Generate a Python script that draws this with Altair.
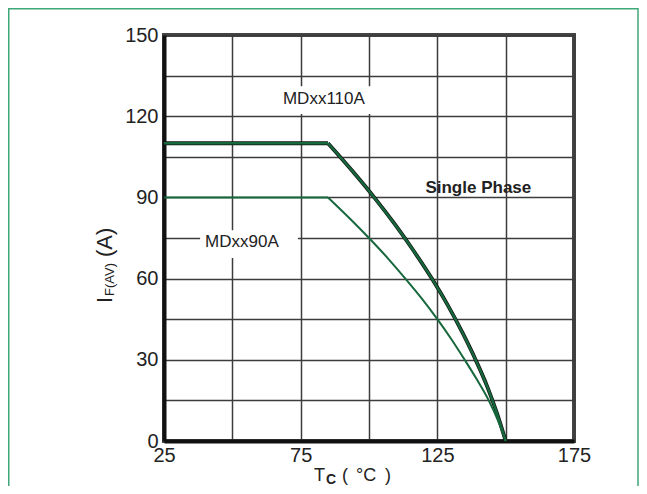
import altair as alt
import pandas as pd

# ---- data ----
t_110 = [25, 85, 93.7, 101.9, 109.5, 116.5, 123, 128.9, 134.2, 139, 143.3, 146.9, 150]
i_110 = [110, 110, 100, 90, 80, 70, 60, 50, 40, 30, 20, 10, 0]
t_90 = [25, 85, 92.7, 100, 106.9, 113.3, 119.4, 125, 130.2, 135, 139.6, 143.8, 147.2, 150]
i_90 = [90, 90, 82.5, 75, 67.5, 60, 52.5, 45, 37.5, 30, 22.5, 15, 7.5, 0]

x_ticks = [25, 50, 75, 100, 125, 150, 175]
y_ticks = [0, 15, 30, 45, 60, 75, 90, 105, 120, 135, 150]

labels = ["MDxx110A", "MDxx90A"]
label_t = [83.5, 53.5]
label_i = [126.5, 73.5]
# white boxes behind the curve labels (interrupting grid lines)
box_t1 = [66, 38.2]
box_t2 = [104.8, 74]
box_i1 = [120.8, 67.6]
box_i2 = [131.1, 77.9]

note_text = ["Single Phase"]
note_t = [140]
note_i = [93.5]

GREEN = "#17683d"
FONT = "Liberation Sans"

# flat part (up to the knee) and derating curve part (from the knee)
flat110 = pd.DataFrame({"t": t_110[:2], "i": i_110[:2]})
curve110 = pd.DataFrame({"t": t_110[1:], "i": i_110[1:]})
flat90 = pd.DataFrame({"t": t_90[:2], "i": i_90[:2]})
curve90 = pd.DataFrame({"t": t_90[1:], "i": i_90[1:]})
dflab = pd.DataFrame({"t": label_t, "i": label_i, "s": labels})
dfbox = pd.DataFrame({"t": box_t1, "t2": box_t2, "i": box_i1, "i2": box_i2})
dfnote = pd.DataFrame({"t": note_t, "i": note_i, "s": note_text})
one = pd.DataFrame({"k": [0]})

xaxis = alt.Axis(values=x_ticks, labelExpr="datum.value % 50 == 25 ? datum.label : ''",
                 grid=True, ticks=False, title=None, labelFlush=False, labelPadding=4,
                 labelFontSize=20, labelFont=FONT, labelColor="#222",
                 gridColor="#3c3c3c", gridWidth=1.5, domainColor="#111", domainWidth=4)
yaxis = alt.Axis(values=y_ticks, labelExpr="datum.value % 30 == 0 ? datum.label : ''",
                 grid=True, ticks=False, title=None, labelFlush=False, labelPadding=6,
                 labelFontSize=20, labelFont=FONT, labelColor="#222",
                 gridColor="#3c3c3c", gridWidth=1.5, domainColor="#111", domainWidth=4)
xs = alt.Scale(domain=[25, 175], nice=False)
ys = alt.Scale(domain=[0, 150], nice=False)

X = alt.X("t:Q", scale=xs, axis=xaxis)
Y = alt.Y("i:Q", scale=ys, axis=yaxis)


def line(df, color, width, interp):
    return alt.Chart(df).mark_line(color=color, strokeWidth=width, interpolate=interp,
                                   strokeJoin="miter").encode(x=X, y=Y)


boxes = alt.Chart(dfbox).mark_rect(color="white").encode(x=X, x2="t2:Q", y=Y, y2="i2:Q")
curves = [
    line(flat110, "#111", 3.8, "linear"), line(curve110, "#111", 3.8, "monotone"),
    line(flat110, GREEN, 2.4, "linear"), line(curve110, GREEN, 2.4, "monotone"),
    line(flat90, GREEN, 2, "linear"), line(curve90, GREEN, 2, "monotone"),
]
labtext = alt.Chart(dflab).mark_text(font=FONT, fontSize=17, color="#222").encode(x=X, y=Y, text="s:N")
notetext = alt.Chart(dfnote).mark_text(font=FONT, fontSize=17, fontWeight="bold", color="#222").encode(
    x=X, y=Y, text="s:N")


def txt(s, x, y, size, bold=False, angle=None, align="left", baseline="alphabetic", font=FONT):
    kw = dict(font=font, fontSize=size, align=align, baseline=baseline, color="#222")
    if bold:
        kw["fontWeight"] = "bold"
    if angle is not None:
        kw["angle"] = angle
    return alt.Chart(one).mark_text(**kw).encode(x=alt.value(x), y=alt.value(y), text=alt.value(s))


# axis titles composed with subscripts (full-width brackets spaced like the original)
xt1 = txt("T", 150, 446, 18)
xt2 = txt("C", 162, 449, 14, bold=True)
xt3 = txt("(", 178, 446, 18)
xt4 = txt("°C", 192, 446, 18)
xt5 = txt(")", 221, 446, 18)
yt1 = txt("I", -52, 268, 22, angle=270)
yt2 = txt("F(AV)", -50, 261, 13, angle=270)
yt3 = txt("(A)", -52, 222, 22, angle=270)

frame = alt.Chart(one).mark_rect(fill="white", fillOpacity=0, stroke="#3fa878", strokeWidth=1.5).encode(
    x=alt.value(-155.25), x2=alt.value(474), y=alt.value(-26.25), y2=alt.value(520))

chart = alt.layer(
    boxes, *curves, labtext, notetext,
    xt1, xt2, xt3, xt4, xt5, yt1, yt2, yt3, frame
).properties(
    width=410, height=406,
    autosize=alt.AutoSizeParams(type="none"),
    padding={"left": 156, "top": 27, "right": 65, "bottom": 45},
    background="white",
).configure_view(stroke="#444", strokeWidth=4)

chart.save("out.html", embed_options={"renderer": "svg", "actions": False})
